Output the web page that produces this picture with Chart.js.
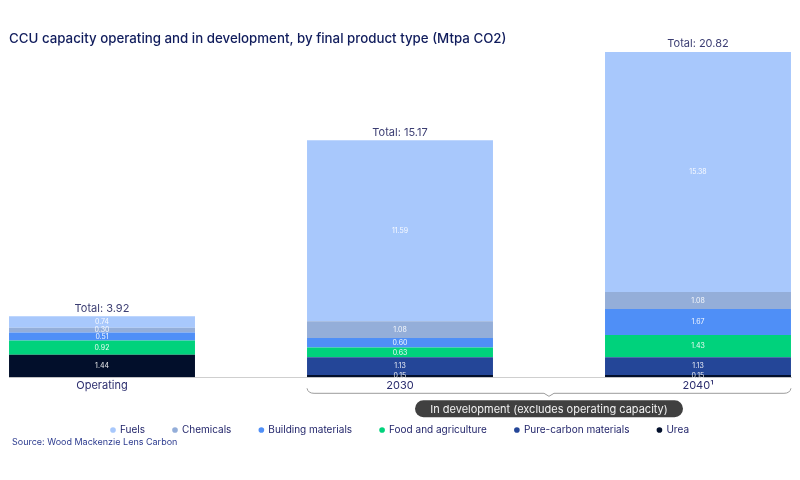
<!DOCTYPE html>
<html>
<head>
<meta charset="utf-8">
<script src="https://cdn.jsdelivr.net/npm/chart.js@4.4.1/dist/chart.umd.min.js"></script>
<style>
  html, body { margin: 0; padding: 0; background: #fff; }
  #wrap { width: 800px; height: 480px; }
</style>
</head>
<body>
<div id="wrap"><canvas id="ccuChart" width="800" height="480"></canvas></div>
<script>
// categories and series (Mtpa CO2)
const categories = ['Operating', '2030', '2040\u00B9'];
const urea = [1.44, 0.15, 0.15];
const pureCarbon = [0, 1.13, 1.13];
const foodAgri = [0.92, 0.63, 1.43];
const building = [0.51, 0.60, 1.67];
const chemicals = [0.30, 1.08, 1.08];
const fuels = [0.74, 11.59, 15.38];
const totals = [3.92, 15.17, 20.82];

const FONT = 'Inter, "Noto Sans", sans-serif';
const NAVY = '#1c1f66';

const series = [
  { label: 'Urea', values: urea, color: '#020f2b' },
  { label: 'Pure-carbon materials', values: pureCarbon, color: '#244698' },
  { label: 'Food and agriculture', values: foodAgri, color: '#00d27c' },
  { label: 'Building materials', values: building, color: '#4f8ff7' },
  { label: 'Chemicals', values: chemicals, color: '#94aed9' },
  { label: 'Fuels', values: fuels, color: '#a8c8fc' },
];

/**
 * Segment values, totals, bracket and footer
 */
const overlayPlugin = {
  id: 'overlay',
  afterDatasetsDraw(chart) {
    const { ctx } = chart;
    ctx.save();
    ctx.textAlign = 'center';
    ctx.textBaseline = 'middle';
    // values inside segments
    ctx.font = `7px ${FONT}`;
    ctx.fillStyle = 'rgba(255,255,255,0.92)';
    chart.data.datasets.forEach((ds, di) => {
      chart.getDatasetMeta(di).data.forEach((bar, i) => {
        const v = ds.data[i].y;
        if (!v) return;
        ctx.fillText(v.toFixed(2), bar.x, (bar.y + bar.base) / 2);
      });
    });
    // totals above bars
    const topMeta = chart.getDatasetMeta(chart.data.datasets.length - 1);
    ctx.font = `11px ${FONT}`;
    ctx.fillStyle = '#3b3d72';
    topMeta.data.forEach((bar, i) => {
      ctx.fillText(`Total: ${totals[i].toFixed(2)}`, bar.x, bar.y - 8);
    });
    ctx.restore();
  },
  afterDraw(chart) {
    const { ctx, chartArea } = chart;
    const bars = chart.getDatasetMeta(0).data;
    const x0 = bars[1].x - bars[1].width / 2;
    const x1 = bars[2].x + bars[2].width / 2;
    const mid = (x0 + x1) / 2;
    const y = chartArea.bottom + 16;
    ctx.save();
    // curly bracket under the development bars
    ctx.strokeStyle = '#9c9c9c';
    ctx.lineWidth = 1;
    ctx.beginPath();
    ctx.moveTo(x0, y - 5);
    ctx.quadraticCurveTo(x0 + 1, y, x0 + 7, y);
    ctx.lineTo(mid - 5, y);
    ctx.lineTo(mid, y + 3);
    ctx.lineTo(mid + 5, y);
    ctx.lineTo(x1 - 7, y);
    ctx.quadraticCurveTo(x1 - 1, y, x1, y - 5);
    ctx.stroke();
    // pill label
    const pw = 268, ph = 17, py = y + 7;
    ctx.fillStyle = '#404040';
    ctx.beginPath();
    ctx.roundRect(mid - pw / 2, py, pw, ph, ph / 2);
    ctx.fill();
    ctx.fillStyle = '#f2f2f2';
    ctx.font = `11px ${FONT}`;
    ctx.textAlign = 'center';
    ctx.textBaseline = 'middle';
    ctx.fillText('In development (excludes operating capacity)', mid, py + ph / 2 + 0.5);
    // source
    ctx.textAlign = 'left';
    ctx.font = `9px ${FONT}`;
    ctx.fillStyle = '#2c3b8f';
    ctx.fillText('Source: Wood Mackenzie Lens Carbon', 12, 442);
    ctx.restore();
  },
};

const ctx = document.getElementById('ccuChart').getContext('2d');
new Chart(ctx, {
  type: 'bar',
  data: {
    datasets: series.map((s) => ({
      label: s.label,
      data: s.values.map((v, i) => ({ x: i, y: v })),
      backgroundColor: s.color,
      borderWidth: 0,
      categoryPercentage: 0.624,
      barPercentage: 1,
    })),
  },
  options: {
    responsive: false,
    animation: false,
    devicePixelRatio: 1,
    layout: { padding: { left: 9, right: 9, top: 0, bottom: 35 } },
    plugins: {
      title: {
        display: true,
        text: 'CCU capacity operating and in development, by final product type (Mtpa CO2)',
        align: 'start',
        color: '#101c5c',
        font: { family: FONT, size: 13.3, weight: '500' },
        padding: { top: 31.5, bottom: 4.5 },
      },
      legend: {
        position: 'bottom',
        reverse: true,
        labels: {
          usePointStyle: true,
          pointStyle: 'circle',
          boxWidth: 4,
          boxHeight: 4,
          padding: 28,
          color: NAVY,
          font: { family: FONT, size: 10 },
          generateLabels: (chart) => chart.data.datasets.map((ds, i) => ({
            text: ds.label,
            fillStyle: ds.backgroundColor,
            strokeStyle: ds.backgroundColor,
            lineWidth: 0,
            pointStyle: 'circle',
            fontColor: NAVY,
            datasetIndex: i,
          })),
        },
      },
      tooltip: { enabled: false },
    },
    scales: {
      x: {
        type: 'linear',
        stacked: true,
        offset: false,
        min: -0.3121,
        max: 2.3121,
        afterBuildTicks: (scale) => { scale.ticks = categories.map((_, i) => ({ value: i })); },
        afterFit: (scale) => { scale.height += 2.5; },
        ticks: {
          autoSkip: false,
          maxRotation: 0,
          padding: 2,
          color: '#2b2d6e',
          font: { family: FONT, size: 11 },
          callback: (v) => categories[v] ?? '',
        },
        grid: { display: false, drawTicks: false, offset: false },
        border: { display: true, color: '#cfcfcf' },
      },
      y: {
        stacked: true,
        display: false,
        min: 0,
        max: 20.84,
      },
    },
  },
  plugins: [overlayPlugin],
});
</script>
</body>
</html>
